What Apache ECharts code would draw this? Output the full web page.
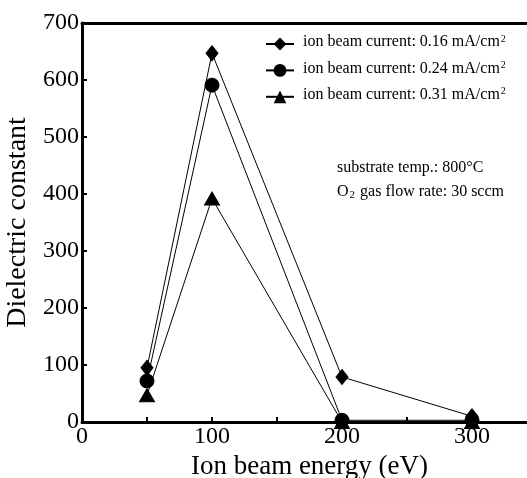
<!DOCTYPE html>
<html><head><meta charset="utf-8">
<script src="https://cdn.jsdelivr.net/npm/echarts@6/dist/echarts.min.js"></script>
<style>html,body{margin:0;padding:0;background:#fff}#c{width:527px;height:478px}</style>
</head><body><div id="c"></div>
<script>
var energies = [50, 100, 200, 300];
var current016 = [95, 647, 79, 10];
var current024 = [72, 591, 3, 3];
var current031 = [47, 392, 0, 0];
var seriesNames = ['ion beam current: 0.16 mA/cm', 'ion beam current: 0.24 mA/cm', 'ion beam current: 0.31 mA/cm'];
var notes = ['substrate temp.: 800°C', 'O{sub|2} gas flow rate: 30 sccm'];

function pairs(ys){ return energies.map(function(x,i){ return [x, ys[i]]; }); }
var font = '"Liberation Serif","Times New Roman",serif';
var chart = echarts.init(document.getElementById('c'));
var symbols = ['diamond','circle','triangle'];
var sizes = [[12,15],14,[15,13]];
var datas = [current016, current024, current031];
chart.setOption({
  animation:false,
  backgroundColor:'#fff',
  grid:{left:82, top:23, width:455, bottom:56, outerBoundsMode:'none', containLabel:false},
  legend:{
    left:265, top:34, padding:0, orient:'vertical', itemWidth:28, itemHeight:16, itemGap:10,
    data: seriesNames,
    formatter: function(n){ return '{t|' + n + '}{sup|2}'; },
    textStyle:{ color:'#000', fontFamily:font, fontSize:16, padding:[0,0,0,4],
      rich:{ t:{fontFamily:font, fontSize:16, color:'#000', lineHeight:20, verticalAlign:'top'},
             sup:{fontFamily:font, fontSize:10, color:'#000', verticalAlign:'top', lineHeight:8, padding:[0,0,0,1]} } }
  },
  graphic:[
    {type:'text', left:337, top:160, style:{text:notes[0], font:'16px ' + font, fill:'#000'}},
    {type:'text', left:337, top:184, style:{text:notes[1], fill:'#000', font:'16px ' + font,
       rich:{sub:{fontSize:11, fontFamily:font, fill:'#000', verticalAlign:'bottom', padding:[7,1,0,1]}}}}
  ],
  xAxis:[{
    type:'value', min:0, max:350, interval:50,
    name:'Ion beam energy (eV)', nameLocation:'middle', nameGap:24,
    nameTextStyle:{fontFamily:font, fontSize:27, color:'#000'},
    axisLine:{lineStyle:{color:'#000', width:3}},
    axisTick:{inside:true, length:5, lineStyle:{color:'#000', width:2}},
    axisLabel:{fontFamily:font, fontSize:24, color:'#000', margin:3,
      formatter:function(v){ return (v % 100 === 0 && v <= 300) ? String(v) : ''; }},
    splitLine:{show:false}
  },{
    type:'value', position:'top', min:0, max:350, interval:50,
    axisLine:{show:true, lineStyle:{color:'#000', width:3}},
    axisTick:{show:false}, axisLabel:{show:false}, splitLine:{show:false}
  }],
  yAxis:{
    type:'value', min:0, max:700, interval:100,
    name:'Dielectric constant', nameLocation:'middle', nameGap:46,
    nameTextStyle:{fontFamily:font, fontSize:28, color:'#000'},
    axisLine:{lineStyle:{color:'#000', width:3}},
    axisTick:{inside:true, length:5, lineStyle:{color:'#000', width:2}},
    axisLabel:{fontFamily:font, fontSize:24, color:'#000', margin:3},
    splitLine:{show:false}
  },
  series: seriesNames.map(function(n,i){
    return {name:n, type:'line', xAxisIndex:0, data:pairs(datas[i]), symbol:symbols[i], symbolSize:sizes[i],
      lineStyle:{color:'#000', width:1}, itemStyle:{color:'#000', borderColor:'#000'}, z:3-i};
  })
});
</script></body></html>
